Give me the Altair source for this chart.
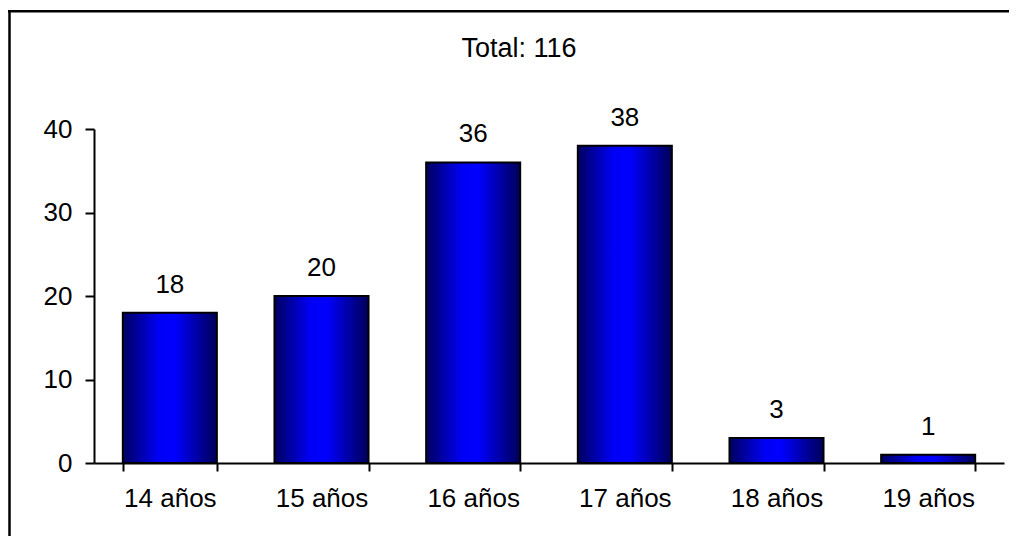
import altair as alt
import pandas as pd

# ---- data ----
categories = ["14 años", "15 años", "16 años", "17 años", "18 años", "19 años"]
values = [18, 20, 36, 38, 3, 1]
y_ticks = [0, 10, 20, 30, 40]
title_text = ["Total: 116"]

df = pd.DataFrame({"edad": categories, "n": values})
df_title = pd.DataFrame({"t": title_text})
df_frame = pd.DataFrame({"a": [0]})

FONT = "Liberation Sans"
W, H = 910, 334
PAD_L, PAD_T = 86, 121

x = alt.X(
    "edad:N", sort=categories, title=None,
    scale=alt.Scale(paddingInner=0.38, paddingOuter=0.19),
    axis=alt.Axis(labelAngle=0, labelFont=FONT, labelFontSize=26, labelColor="black",
                  labelPadding=14, tickSize=8, tickBand="extent", tickColor="black",
                  tickWidth=2, domainColor="black", domainWidth=2),
)
y = alt.Y(
    "n:Q", title=None,
    scale=alt.Scale(domain=[0, 40], nice=False),
    axis=alt.Axis(values=y_ticks, grid=False, labelFont=FONT, labelFontSize=26,
                  labelColor="black", labelPadding=13, tickSize=9, tickColor="black",
                  tickWidth=2, domainColor="black", domainWidth=2),
)

grad = alt.LinearGradient(
    gradient="linear", x1=0, x2=1, y1=0, y2=0,
    stops=[
        alt.GradientStop(color="#000060", offset=0),
        alt.GradientStop(color="#0000f5", offset=0.38),
        alt.GradientStop(color="#0000ff", offset=0.55),
        alt.GradientStop(color="#000058", offset=1),
    ],
)

frame_top = alt.Chart(df_frame).mark_rule(stroke="black", strokeWidth=2.5).encode(
    x=alt.value(8 - 94), x2=alt.value(1200), y=alt.value(11.3 - 129)
)
frame_left = alt.Chart(df_frame).mark_rule(stroke="black", strokeWidth=2.5).encode(
    x=alt.value(9.5 - 94), y=alt.value(10 - 129), y2=alt.value(700)
)

bars = alt.Chart(df).mark_bar(color=grad, stroke="black", strokeWidth=2).encode(x=x, y=y)

labels = alt.Chart(df).mark_text(
    font=FONT, fontSize=26, baseline="alphabetic", dy=-20, color="black"
).encode(x=x, y=y, text="n:Q")

title = alt.Chart(df_title).mark_text(
    font=FONT, fontSize=27, baseline="alphabetic", align="center", color="black"
).encode(x=alt.value(519 - 94), y=alt.value(56.5 - 129), text="t:N")

chart = alt.layer(frame_top, frame_left, bars, labels, title).properties(
    width=W, height=H,
    padding={"left": PAD_L, "top": PAD_T, "right": 5, "bottom": 73},
    autosize=alt.AutoSizeParams(type="none"),
).configure_view(stroke=None)

chart.save("out.html", embed_options={"renderer": "svg", "actions": False})
